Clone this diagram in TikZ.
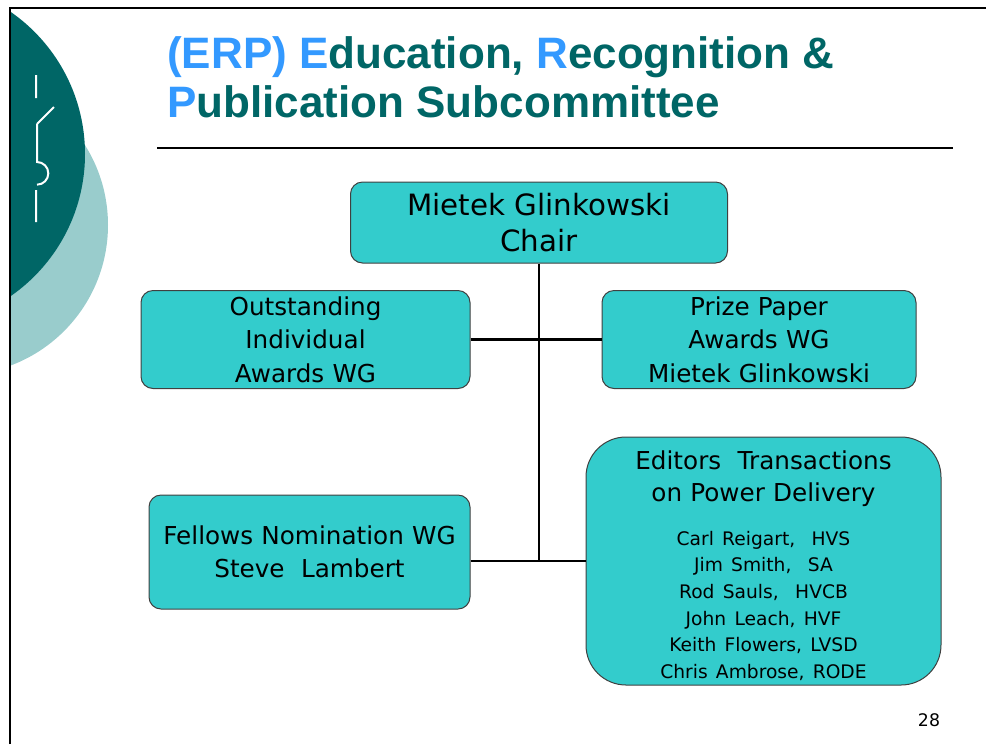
\documentclass[tikz,border=0pt]{standalone}
\usepackage{fontspec}
\setmainfont{DejaVu Sans}
\newfontfamily\titlefont{Liberation Sans}
\definecolor{erpdark}{HTML}{006666}
\definecolor{erplight}{HTML}{99CCCC}
\definecolor{erpblue}{HTML}{3399FF}
\definecolor{erpbox}{HTML}{33CCCC}

\begin{document}
\begin{tikzpicture}[x=0.75pt, y=-0.75pt,
    unit/.style={draw=black!75, fill=erpbox, line width=0.75pt, rounded corners=9pt,
      align=center, inner sep=0pt, font=\fontsize{18.5}{25}\selectfont},
    head/.style={anchor=base west, inner sep=0pt, text=erpdark,
      font=\titlefont\bfseries\fontsize{33}{36}\selectfont},
    link/.style={line width=2pt}]
  \useasboundingbox (0,0) rectangle (986,744);
  % logo at the left edge
  \begin{scope}
    \clip (11,0) rectangle (300,744);
    \fill[erplight] (-42,225) circle[radius=112.5pt];
    \fill[erpdark] (-88,154) circle[radius=129.75pt];
  \end{scope}
  \draw[white, line width=1.5pt] (36,75) -- (36,98) (37,124) -- (54,107)
    (37,124) -- (37,162) arc[start angle=90, end angle=-90, radius=8.5pt]
    (36,190) -- (36,222);
  \draw[line width=1.5pt] (10,744) -- (10,8) -- (986,8);
  % title
  \node[head] (title1) at (167,68) {\textcolor{erpblue}{(ERP) E}ducation,
    \textcolor{erpblue}{R}ecognition \&};
  \node[head] (title2) at (167,117) {\textcolor{erpblue}{P}ublication Subcommittee};
  \draw[line width=1pt] (157,148) -- (953,148);
  % boxes
  \node[unit, text width=282.75pt, minimum height=60.75pt,
    font=\fontsize{22}{27.5}\selectfont] (chair) at (539,222.5)
    {Mietek Glinkowski\\Chair};
  \node[unit, text width=246.75pt, minimum height=73.5pt] (outstanding) at (305.5,339.5)
    {Outstanding\\Individual\\Awards WG};
  \node[unit, text width=235.5pt, minimum height=73.5pt] (prize) at (759,339.5)
    {Prize Paper\\Awards WG\\Mietek Glinkowski};
  \node[unit, text width=240.75pt, minimum height=85.5pt] (fellows) at (309.5,552)
    {Fellows Nomination WG\\Steve\ \ Lambert};
  \node[unit, text width=266.25pt, minimum height=186pt, rounded corners=30pt,
    font=\fontsize{18.5}{24}\selectfont] (editors) at (763.5,561)
    {\rule{0pt}{21pt}Editors\ \ Transactions\\on Power Delivery\par\vspace{13pt}
     \fontsize{14}{20}\selectfont
     Carl Reigart,\ \ HVS\\Jim Smith,\ \ SA\\Rod Sauls,\ \ HVCB\\
     John Leach, HVF\\Keith Flowers, LVSD\\Chris Ambrose, RODE\par};
  % links
  \draw[link] (chair.south) -- (chair.south |- editors.west);
  \draw[link] (outstanding.east) -- (prize.west);
  \draw[link] (editors.west -| fellows.east) -- (editors.west);
  \node (page) at (929,720) {\fontsize{13}{15}\selectfont 28};
\end{tikzpicture}
\end{document}
